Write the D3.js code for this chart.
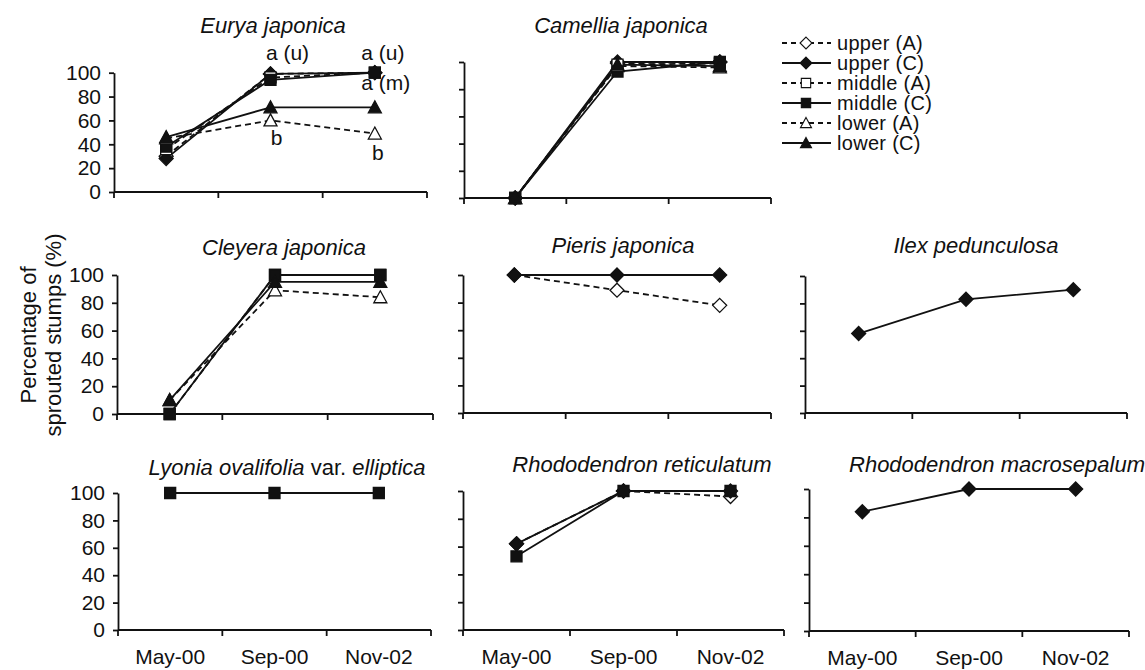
<!DOCTYPE html>
<html>
<head>
<meta charset="utf-8">
<script src="https://cdn.jsdelivr.net/npm/d3@7"></script>
<style>
  html, body { margin: 0; padding: 0; background: #fff; }
  svg { display: block; font-family: "Liberation Sans", Arial, Helvetica, sans-serif; }
  .axis path, .axis line { stroke: #111; stroke-width: 1.8; }
  .axis text { fill: #111; font-size: 21px; font-family: "Liberation Sans", Arial, sans-serif; }
</style>
</head>
<body>
<svg id="chart" width="1145" height="670"></svg>
<script>
// ---------------- data ----------------
const categories = ["May-00", "Sep-00", "Nov-02"];
const yTicks = [0, 20, 40, 60, 80, 100];
const seriesNames = ["upper (A)", "upper (C)", "middle (A)", "middle (C)", "lower (A)", "lower (C)"];

const euryaJaponica = [
  ["upper (A)",  [30, 99, 100]],
  ["upper (C)",  [28, 99, 100]],
  ["middle (A)", [36, 96, 100]],
  ["middle (C)", [38, 94, 100]],
  ["lower (A)",  [45, 60, 49]],
  ["lower (C)",  [46, 71, 71]]
];
const camelliaJaponica = [
  ["upper (A)",  [0, 99, 100]],
  ["upper (C)",  [0, 100, 100]],
  ["middle (A)", [0, 98, 99]],
  ["middle (C)", [0, 93, 100]],
  ["lower (A)",  [0, 97, 96]],
  ["lower (C)",  [0, 98, 97]]
];
const cleyeraJaponica = [
  ["middle (A)", [0, 100, 100]],
  ["middle (C)", [0, 100, 100]],
  ["lower (A)",  [10, 89, 84]],
  ["lower (C)",  [10, 95, 95]]
];
const pierisJaponica = [
  ["upper (A)", [100, 89, 78]],
  ["upper (C)", [100, 100, 100]]
];
const ilexPedunculosa = [
  ["upper (C)", [58, 83, 90]]
];
const lyoniaOvalifolia = [
  ["middle (C)", [100, 100, 100]]
];
const rhododendronReticulatum = [
  ["upper (A)",  [62, 100, 96]],
  ["upper (C)",  [62, 100, 100]],
  ["middle (C)", [53, 100, 100]]
];
const rhododendronMacrosepalum = [
  ["upper (C)", [84, 100, 100]]
];

const euryaAnnotations = [
  ["a (u)", "Sep-00"],
  ["a (u)", "Nov-02"],
  ["a (m)", "Nov-02"],
  ["b", "Sep-00"],
  ["b", "Nov-02"]
];

// ---------------- layout ----------------
const panels = [
  { title: [["Eurya japonica", true]], data: euryaJaponica, x0: 114, x1: 427, yTop: 72.7, yBot: 192, tx: 273, ty: 33, yLab: true, xLab: false },
  { title: [["Camellia japonica", true]], data: camelliaJaponica, x0: 464, x1: 771, yTop: 62, yBot: 198, tx: 621, ty: 33, yLab: false, xLab: false },
  { title: [["Cleyera japonica", true]], data: cleyeraJaponica, x0: 117, x1: 433, yTop: 275, yBot: 414, tx: 284, ty: 255, yLab: true, xLab: false },
  { title: [["Pieris japonica", true]], data: pierisJaponica, x0: 463, x1: 771, yTop: 275, yBot: 413, tx: 623, ty: 253, yLab: false, xLab: false },
  { title: [["Ilex pedunculosa", true]], data: ilexPedunculosa, x0: 805, x1: 1127, yTop: 276, yBot: 413, tx: 976, ty: 253, yLab: false, xLab: false },
  { title: [["Lyonia ovalifolia", true], [" var. ", false], ["elliptica", true]], data: lyoniaOvalifolia, x0: 118, x1: 431, yTop: 493, yBot: 630, tx: 287, ty: 475, yLab: true, xLab: true },
  { title: [["Rhododendron reticulatum", true]], data: rhododendronReticulatum, x0: 463, x1: 784, yTop: 491, yBot: 630, tx: 642, ty: 472, yLab: false, xLab: true },
  { title: [["Rhododendron macrosepalum", true]], data: rhododendronMacrosepalum, x0: 809, x1: 1129, yTop: 489, yBot: 631, tx: 997, ty: 472, yLab: false, xLab: true }
];
const annotationOffsets = [[17, 60], [8, 60], [11, 90], [6, 145], [3, 160]];

const ink = "#111";

function styleOf(name) {
  const dashed = name.indexOf("(A)") >= 0;
  const shape = name.startsWith("upper") ? "diamond" : name.startsWith("middle") ? "square" : "triangle";
  return { dashed, shape, fill: dashed ? "#fff" : ink };
}
function shapePath(shape) {
  if (shape === "diamond") return "M0,-7L7,0L0,7L-7,0Z";
  if (shape === "square") return "M-5.5,-5.5H5.5V5.5H-5.5Z";
  return "M0,-6.5L6.5,5.5H-6.5Z";
}

const svg = d3.select("#chart");
svg.append("rect").attr("width", 1145).attr("height", 670).attr("fill", "#fff");

panels.forEach((p, pi) => {
  const g = svg.append("g");
  const x = d3.scaleBand().domain(categories).range([p.x0, p.x1]);
  const y = d3.scaleLinear().domain([0, 100]).range([p.yBot, p.yTop]);
  const cx = c => x(c) + x.bandwidth() / 2;

  // y axis
  const yAxis = d3.axisLeft(y).tickValues(yTicks).tickSize(5).tickSizeOuter(0).tickPadding(8);
  if (!p.yLab) yAxis.tickFormat("");
  g.append("g").attr("class", "axis").attr("transform", `translate(${p.x0},0)`).call(yAxis);

  // x axis line + boundary ticks
  const xa = g.append("g").attr("class", "axis");
  xa.append("line").attr("x1", p.x0).attr("x2", p.x1).attr("y1", p.yBot).attr("y2", p.yBot);
  const bounds = categories.map(c => x(c)).concat([x(categories[categories.length - 1]) + x.bandwidth()]);
  xa.selectAll("line.tk").data(bounds).enter().append("line").attr("class", "tk")
    .attr("x1", d => d).attr("x2", d => d).attr("y1", p.yBot).attr("y2", p.yBot + 6);
  if (p.xLab) {
    xa.selectAll("text").data(categories).enter().append("text")
      .attr("x", d => cx(d)).attr("y", p.yBot + 34).attr("text-anchor", "middle").text(d => d);
  }

  // title
  const t = g.append("text").attr("x", p.tx).attr("y", p.ty).attr("text-anchor", "middle")
    .attr("font-size", 22).attr("fill", ink);
  p.title.forEach(([s, it]) => t.append("tspan").attr("font-style", it ? "italic" : "normal").text(s));

  // series lines
  const line = d3.line().x((d, i) => cx(categories[i])).y(d => y(d));
  p.data.forEach(([name, vals]) => {
    const st = styleOf(name);
    g.append("path").attr("d", line(vals)).attr("fill", "none").attr("stroke", ink)
      .attr("stroke-width", 1.8).attr("stroke-dasharray", st.dashed ? "6,4" : null);
  });
  p.data.forEach(([name, vals]) => {
    const st = styleOf(name);
    g.selectAll(null).data(vals).enter().append("path")
      .attr("d", shapePath(st.shape))
      .attr("transform", (d, i) => `translate(${cx(categories[i])},${y(d)})`)
      .attr("fill", st.fill).attr("stroke", ink).attr("stroke-width", 1.3);
  });

  // annotations for Eurya
  if (pi === 0) {
    euryaAnnotations.forEach(([txt, cat], k) => {
      g.append("text").attr("x", cx(cat) + annotationOffsets[k][0]).attr("y", annotationOffsets[k][1])
        .attr("text-anchor", "middle").attr("font-size", 21).attr("fill", ink).text(txt);
    });
  }
});

// legend
const legend = svg.append("g");
seriesNames.forEach((name, i) => {
  const st = styleOf(name);
  const yy = 43 + i * 20;
  legend.append("line").attr("x1", 782).attr("x2", 831).attr("y1", yy).attr("y2", yy)
    .attr("stroke", ink).attr("stroke-width", 1.8).attr("stroke-dasharray", st.dashed ? "5,4" : null);
  legend.append("path").attr("d", shapePath(st.shape)).attr("transform", `translate(806,${yy}) scale(0.85)`)
    .attr("fill", st.fill).attr("stroke", ink).attr("stroke-width", 1.3);
  legend.append("text").attr("x", 837).attr("y", yy).attr("dy", "0.35em").attr("font-size", 20)
    .attr("letter-spacing", "0.3px").attr("fill", ink).text(name);
});

// y axis title
const yt = svg.append("g").attr("transform", "translate(0,335) rotate(-90)");
yt.append("text").attr("x", 0).attr("y", 28).attr("dy", "0.35em").attr("text-anchor", "middle")
  .attr("font-size", 22).attr("fill", ink).text("Percentage of");
yt.append("text").attr("x", 0).attr("y", 53).attr("dy", "0.35em").attr("text-anchor", "middle")
  .attr("font-size", 22).attr("fill", ink).text("sprouted stumps (%)");
</script>
</body>
</html>
